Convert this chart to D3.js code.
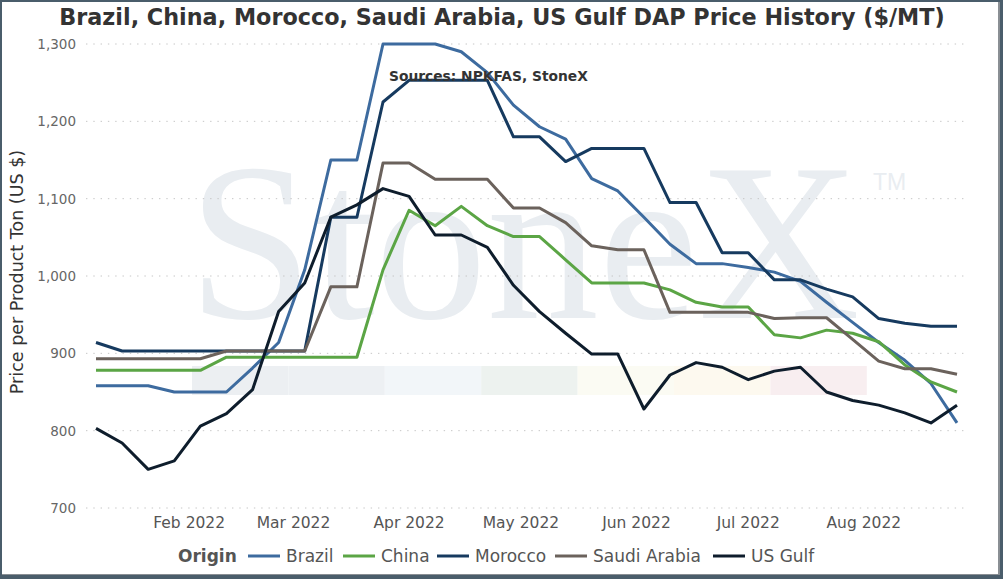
<!DOCTYPE html>
<html>
<head>
<meta charset="utf-8">
<script src="https://cdn.jsdelivr.net/npm/d3@7"></script>
<style>
  html, body { margin: 0; padding: 0; background: #4a5d6b; }
  svg { display: block; }
</style>
</head>
<body>
<script>
// weekly dates (Fridays)
const dates = ["2022-01-07","2022-01-14","2022-01-21","2022-01-28",
  "2022-02-04","2022-02-11","2022-02-18","2022-02-25",
  "2022-03-04","2022-03-11","2022-03-18","2022-03-25",
  "2022-04-01","2022-04-08","2022-04-15","2022-04-22","2022-04-29",
  "2022-05-06","2022-05-13","2022-05-20","2022-05-27",
  "2022-06-03","2022-06-10","2022-06-17","2022-06-24",
  "2022-07-01","2022-07-08","2022-07-15","2022-07-22","2022-07-29",
  "2022-08-05","2022-08-12","2022-08-19","2022-08-26"];

const brazil = [858,858,858,850,850,850,881,914,1008,1150,1150,1300,1300,1300,1290,1263,1221,
  1193,1177,1126,1110,1076,1041,1016,1016,1011,1005,993,966,940,914,891,861,810];
const china = [878,878,878,878,878,895,895,895,895,895,895,1008,1085,1065,1090,1065,1051,
  1051,1021,991,991,991,982,966,960,960,924,920,930,926,915,885,863,850];
const morocco = [914,903,903,903,903,903,903,903,903,1076,1076,1225,1253,1253,1253,1253,1180,
  1180,1148,1165,1165,1165,1095,1095,1030,1030,995,995,983,973,945,939,935,935];
const saudi = [893,893,893,893,893,903,903,903,903,986,986,1146,1146,1125,1125,1125,1088,
  1088,1069,1039,1034,1034,953,953,953,953,945,946,946,918,890,880,880,873];
const usGulf = [803,784,750,761,806,822,853,954,991,1076,1092,1113,1103,1053,1053,1037,988,
  954,926,899,899,828,872,888,882,866,877,882,850,839,833,823,810,833];

const seriesNames = ["Brazil","China","Morocco","Saudi Arabia","US Gulf"];
const seriesColors = ["#3d6b9f","#5ba545","#163a5f","#6b625c","#0e1d2c"];
const yTicks = [700,800,900,1000,1100,1200,1300];
const monthTicks = ["2022-02-01","2022-03-01","2022-04-01","2022-05-01","2022-06-01","2022-07-01","2022-08-01"];
const watermarkBands = ["#eceff2","#edf0f3","#f2f6f9","#edf2ef","#fbfbf3","#fdf9ef","#f8eef0"];

const W = 1003, H = 579;
const parse = d3.timeParse("%Y-%m-%d");

const svg = d3.select("body").append("svg")
  .attr("width", W).attr("height", H);

// white panel with a thin grey shadow
svg.append("rect").attr("x", 2).attr("y", 2).attr("width", 998).attr("height", 573).attr("fill", "#8a8f94");
svg.append("rect").attr("x", 2).attr("y", 2).attr("width", 996).attr("height", 572).attr("fill", "#fff");

const x = d3.scaleTime()
  .domain([parse(dates[0]), parse(dates[dates.length - 1])])
  .range([96, 957]);
const y = d3.scaleLinear().domain([700, 1300]).range([508, 44]);

// watermark
const wm = svg.append("g");
watermarkBands.forEach((c, i) => {
  wm.append("rect").attr("x", 192 + i * 96.4).attr("y", 366)
    .attr("width", 96.4).attr("height", 29).attr("fill", c);
});
wm.append("text").attr("x", 188).attr("y", 318)
  .attr("font-family", "Liberation Serif, serif").attr("font-size", 224)
  .attr("fill", "#e9edf1").text("StoneX");
wm.append("text").attr("x", 873).attr("y", 190)
  .attr("font-family", "Liberation Sans, sans-serif").attr("font-size", 23)
  .attr("fill", "#e9edf1").text("TM");

// gridlines
svg.append("g").selectAll("line").data(yTicks).join("line")
  .attr("x1", 86).attr("x2", 965)
  .attr("y1", d => y(d)).attr("y2", d => y(d))
  .attr("stroke", "#c6c6c6").attr("stroke-width", 1)
  .attr("stroke-dasharray", "1.4,5.9");

// y axis labels
svg.append("g").selectAll("text").data(yTicks).join("text")
  .attr("x", 76).attr("y", d => y(d) + 5)
  .attr("text-anchor", "end")
  .attr("font-family", "DejaVu Sans, sans-serif").attr("font-size", 13.5)
  .attr("fill", "#666").text(d => d3.format(",")(d));

// x axis labels
svg.append("g").selectAll("text").data(monthTicks).join("text")
  .attr("x", d => x(parse(d))).attr("y", 528)
  .attr("text-anchor", "middle")
  .attr("font-family", "DejaVu Sans, sans-serif").attr("font-size", 15.5)
  .attr("fill", "#555").text(d => d3.timeFormat("%b %Y")(parse(d)));

// y title
svg.append("text")
  .attr("transform", "translate(23,272) rotate(-90)")
  .attr("text-anchor", "middle")
  .attr("font-family", "DejaVu Sans, sans-serif").attr("font-size", 17.5)
  .attr("fill", "#333").text("Price per Product Ton (US $)");

// lines
const allSeries = [brazil, china, morocco, saudi, usGulf];
const line = d3.line()
  .x((d, i) => x(parse(dates[i])))
  .y(d => y(d));

svg.append("g").selectAll("path").data(allSeries).join("path")
  .attr("d", d => line(d))
  .attr("fill", "none")
  .attr("stroke", (d, i) => seriesColors[i])
  .attr("stroke-width", 3)
  .attr("stroke-linejoin", "round");

// source note
svg.append("text").attr("x", 389).attr("y", 81)
  .attr("font-family", "DejaVu Sans, sans-serif").attr("font-weight", "bold")
  .attr("font-size", 13.8).attr("fill", "#333")
  .text("Sources: NPKFAS, StoneX");

// title
svg.append("text").attr("x", 502).attr("y", 25)
  .attr("text-anchor", "middle")
  .attr("font-family", "DejaVu Sans, sans-serif").attr("font-weight", "bold")
  .attr("font-size", 22.3).attr("fill", "#333")
  .text("Brazil, China, Morocco, Saudi Arabia, US Gulf DAP Price History ($/MT)");

// legend
const legend = svg.append("g").attr("font-family", "DejaVu Sans, sans-serif").attr("font-size", 17);
legend.append("text").attr("x", 178).attr("y", 562)
  .attr("font-weight", "bold").attr("fill", "#555").text("Origin");
const swatchX = [248, 343, 437, 555, 713];
seriesNames.forEach((n, i) => {
  legend.append("line")
    .attr("x1", swatchX[i]).attr("x2", swatchX[i] + 32)
    .attr("y1", 556).attr("y2", 556)
    .attr("stroke", seriesColors[i]).attr("stroke-width", 3);
  legend.append("text").attr("x", swatchX[i] + 38).attr("y", 562)
    .attr("fill", "#555").text(n);
});
</script>
</body>
</html>
